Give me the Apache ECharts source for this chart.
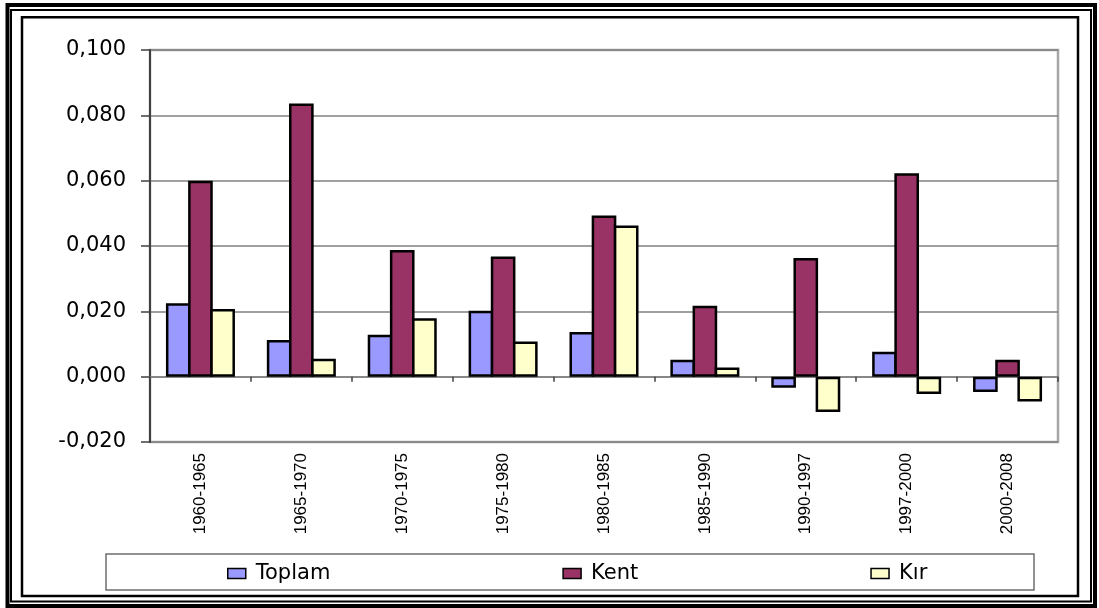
<!DOCTYPE html>
<html>
<head>
<meta charset="utf-8">
<title>Toplam / Kent / Kır</title>
<script src="https://cdn.jsdelivr.net/npm/echarts@6/dist/echarts.min.js"></script>
<style>
  html, body { margin: 0; padding: 0; background: #ffffff; }
  #chart { width: 1099px; height: 608px; }
</style>
</head>
<body>
<div id="chart"></div>
<script>
// Periods on the category axis
const categories = ['1960-1965', '1965-1970', '1970-1975', '1975-1980', '1980-1985',
                    '1985-1990', '1990-1997', '1997-2000', '2000-2008'];

// Series names
const seriesNames = ['Toplam', 'Kent', 'Kır'];

// Annual rates per period
const toplam = [0.0225, 0.0112, 0.0128, 0.0202, 0.0137, 0.0052, -0.0034, 0.0076, -0.0047];
const kent   = [0.0600, 0.0836, 0.0388, 0.0368, 0.0493, 0.0217, 0.0363, 0.0623, 0.0052];
const kir    = [0.0207, 0.0055, 0.0179, 0.0108, 0.0463, 0.0028, -0.0108, -0.0053, -0.0076];

// Value axis range
const yMin = -0.02;
const yMax = 0.1;
const yStep = 0.02;

const colors = ['#9999FF', '#993366', '#FFFFCC'];
const values = [toplam, kent, kir];

const chart = echarts.init(document.getElementById('chart'));

// Neighbouring bars share one outline, hence the small negative gap
const barSeries = seriesNames.map(function (name, i) {
  return {
    name: name,
    type: 'bar',
    xAxisIndex: 0,
    yAxisIndex: 0,
    data: values[i],
    barGap: '-10%',
    barCategoryGap: '31.6%',
    itemStyle: { color: colors[i], borderColor: '#000000', borderWidth: 2.5 }
  };
});

chart.setOption({
  animation: false,
  backgroundColor: '#ffffff',
  textStyle: { fontFamily: 'Liberation Sans, Arial, sans-serif' },
  graphic: [
    // double outer frame
    { type: 'rect', z: 100, silent: true,
      shape: { x: 7.5, y: 5, width: 1087.5, height: 601 },
      style: { fill: null, stroke: '#000000', lineWidth: 4 } },
    { type: 'rect', z: 100, silent: true,
      shape: { x: 11, y: 10, width: 1080, height: 591.5 },
      style: { fill: null, stroke: '#000000', lineWidth: 2 } },
    // chart area frame
    { type: 'rect', z: 100, silent: true,
      shape: { x: 22, y: 17.3, width: 1056, height: 578.7 },
      style: { fill: null, stroke: '#000000', lineWidth: 2.5 } },
    // legend box
    { type: 'rect', z: 1, silent: true,
      shape: { x: 106, y: 554, width: 928, height: 36 },
      style: { fill: '#ffffff', stroke: '#6e6e6e', lineWidth: 1.5 } }
  ],
  legend: {
    data: seriesNames,
    left: 222,
    top: 558,
    itemWidth: 18,
    itemHeight: 10,
    itemGap: 232,
    icon: 'rect',
    itemStyle: { borderColor: '#000000', borderWidth: 1.5 },
    textStyle: { fontFamily: 'DejaVu Sans', fontSize: 21, color: '#000000', padding: [0, 0, 0, 5] }
  },
  grid: {
    left: 150,
    right: 41,
    top: 50,
    bottom: 166,
    show: true,
    borderColor: '#a6a6a6',
    borderWidth: 2.5,
    backgroundColor: '#ffffff'
  },
  xAxis: [
    {
      // axis line through zero with boundary ticks
      type: 'category',
      data: categories,
      position: 'bottom',
      axisLine: { onZero: true, lineStyle: { color: '#808080', width: 1.5 } },
      axisTick: { show: true, length: 5, lineStyle: { color: '#404040', width: 1.5 } },
      axisLabel: { show: false },
      splitLine: { show: false }
    },
    {
      // rotated period labels below the plot
      type: 'category',
      data: categories,
      position: 'bottom',
      axisLine: { show: false, onZero: false },
      axisTick: { show: false },
      axisLabel: {
        show: true,
        rotate: 90,
        margin: 11,
        interval: 0,
        fontFamily: 'Liberation Sans',
        fontSize: 17,
        color: '#000000'
      },
      splitLine: { show: false }
    }
  ],
  yAxis: {
    type: 'value',
    min: yMin,
    max: yMax,
    interval: yStep,
    axisLine: { show: true, lineStyle: { color: '#404040', width: 2 } },
    axisTick: { show: true, length: 9, lineStyle: { color: '#404040', width: 1.5 } },
    axisLabel: {
      margin: 24,
      fontFamily: 'DejaVu Sans',
      fontSize: 21,
      color: '#000000',
      formatter: function (v) { return v.toFixed(3).replace('.', ','); }
    },
    splitLine: { show: true, lineStyle: { color: '#808080', width: 1.5 } }
  },
  series: barSeries
});
</script>
</body>
</html>
